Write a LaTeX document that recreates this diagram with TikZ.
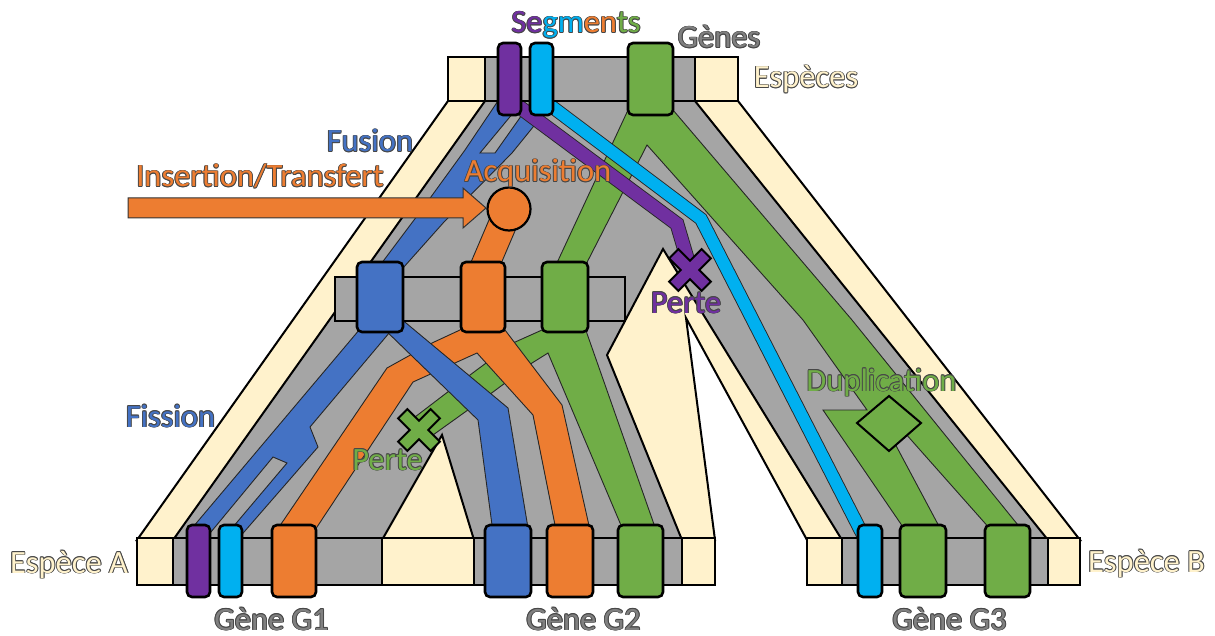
\documentclass[tikz,border=0pt]{standalone}
\usepackage{fontspec}
\setmainfont{Carlito}
\definecolor{tanc}{HTML}{FFF2CC}
\definecolor{grayc}{HTML}{A5A5A5}
\definecolor{bluec}{HTML}{4472C4}
\definecolor{orangec}{HTML}{ED7D31}
\definecolor{greenc}{HTML}{70AD47}
\definecolor{purplec}{HTML}{7030A0}
\definecolor{cyanc}{HTML}{00B0F0}
\definecolor{txtgray}{HTML}{808080}
\newcommand\OTxt[2]{\leavevmode\begingroup\setbox0=\hbox{#2}%
\def\oo##1##2{\rlap{\kern##1\raise##2\hbox{\color{black!72}\copy0}}}%
\oo{-.9pt}{0pt}\oo{.9pt}{0pt}\oo{0pt}{.9pt}\oo{0pt}{-.9pt}%
\oo{-.64pt}{.64pt}\oo{.64pt}{.64pt}\oo{-.64pt}{-.64pt}\oo{.64pt}{-.64pt}%
\hbox{\color{#1}\box0}\endgroup}
\begin{document}
\begin{tikzpicture}[x=1pt,y=-1pt,
  treeline/.style={draw=black,line width=2pt,line join=miter},
  bandline/.style={draw=black!85,line width=0.9pt,line join=miter},
  genebox/.style={draw=black,line width=2.6pt,rounded corners=5pt,inner sep=0pt},
  barbox/.style={draw=black,line width=2pt},
  lbl/.style={inner sep=0pt,anchor=base,font=\fontsize{32.5}{36}\selectfont},
  evt/.style={draw=black,line width=2pt,line join=miter}]
\useasboundingbox (0,0) rectangle (1215,636);

% species tree and gene tree tubes
\path[treeline,fill=tanc] (448,101) -- (738,101) -- (1080,540) -- (807,540) -- (686,318) -- (715,540) -- (137,540) -- cycle;
\path[treeline,fill=grayc] (485,101) -- (695,101) -- (1048,540) -- (842,540) -- (663,249) -- (607,355) -- (682,540) -- (474,540) -- (442,435) -- (382,540) -- (173,540) -- cycle;

% green lineages
\path[bandline,fill=greenc] (628,110) -- (673,110) -- (852,320) -- (1022,530) -- (991,530) -- (905,433) -- (893,440) -- (941,530) -- (905,530) -- (823,410) -- (867,410) -- (803,320) -- (647,145) -- (578,280) -- (549,280) -- cycle;
\path[bandline,fill=greenc] (548,325) -- (584,325) -- (656,530) -- (623,530) -- (548,353) -- (532,363) -- (493,392) -- (433,435) -- (415,417) -- (470,375) -- (513,343) -- (542,330) -- cycle;

% orange lineages
\path[bandline,fill=orangec] (496,203.5) -- (522,214.5) -- (496,275.5) -- (470,264.5) -- cycle;
\path[bandline,fill=orangec] (468,320) -- (500,320) -- (505,330) -- (562,405) -- (590,530) -- (556,530) -- (533,415) -- (477,353) -- (413,382) -- (315,530) -- (277,530) -- (387,368) -- (405,358) -- (432,343) -- (460,330) -- cycle;

% blue lineages
\path[bandline,fill=bluec] (502,95) -- (528,95) -- (480,153) -- (495,153) -- (536,95) -- (559,95) -- (512,153) -- (444,222) -- (403,268) -- (378,268) -- (420,212) -- (465,150) -- cycle;
\path[bandline,fill=bluec] (376,310) -- (193,527) -- (206,538) -- (273,457) -- (287,463) -- (222,540) -- (231,547) -- (318,447) -- (310,427) -- (395,326) -- cycle;
\path[bandline,fill=bluec] (364.5,310) -- (390.4,310) -- (508,408) -- (530,540) -- (494,540) -- (478,420) -- cycle;

% purple and cyan segments
\draw[line width=14.8pt,black!85,line join=miter] (510,100) -- (677,224) -- (690,268);
\draw[line width=13pt,purplec,line join=miter] (510,100) -- (677,224) -- (690,268);
\draw[line width=13.8pt,black!85,line join=miter] (543,100) -- (701,219) -- (868,545);
\draw[line width=12pt,cyanc,line join=miter] (543,100) -- (701,219) -- (868,545);

% genome bars
\draw[barbox,fill=tanc] (448,57) rectangle (485,101);
\draw[barbox,fill=grayc] (485,57) rectangle (695,101);
\draw[barbox,fill=tanc] (695,57) rectangle (738,101);
\draw[barbox,fill=grayc] (335,277) rectangle (625,321);
\draw[barbox,fill=tanc] (137,538) rectangle (173,585);
\draw[barbox,fill=grayc] (173,538) rectangle (382,585);
\draw[barbox,fill=tanc] (382,538) rectangle (474,585);
\draw[barbox,fill=grayc] (474,538) rectangle (682,585);
\draw[barbox,fill=tanc] (682,538) rectangle (715,585);
\draw[barbox,fill=tanc] (807,538) rectangle (842,585);
\draw[barbox,fill=grayc] (842,538) rectangle (1048,585);
\draw[barbox,fill=tanc] (1048,538) rectangle (1080,585);

% genes
\node[genebox,fill=purplec,minimum width=23pt,minimum height=72pt] (tP) at (509.5,79) {};
\node[genebox,fill=cyanc,minimum width=23pt,minimum height=72pt] (tC) at (541.5,79) {};
\node[genebox,fill=greenc,minimum width=45pt,minimum height=72pt] (tG) at (650.5,79) {};
\node[genebox,fill=bluec,minimum width=46pt,minimum height=70pt] (mB) at (380,297) {};
\node[genebox,fill=orangec,minimum width=44pt,minimum height=70pt] (mO) at (483,297) {};
\node[genebox,fill=greenc,minimum width=46pt,minimum height=70pt] (mG) at (565,297) {};
\node[genebox,fill=purplec,minimum width=23pt,minimum height=72pt] (aP) at (198.5,561) {};
\node[genebox,fill=cyanc,minimum width=23pt,minimum height=72pt] (aC) at (230.5,561) {};
\node[genebox,fill=orangec,minimum width=44pt,minimum height=72pt] (aO) at (294,561) {};
\node[genebox,fill=bluec,minimum width=46pt,minimum height=72pt] (aB2) at (508,561) {};
\node[genebox,fill=orangec,minimum width=46pt,minimum height=72pt] (aO2) at (570,561) {};
\node[genebox,fill=greenc,minimum width=45pt,minimum height=72pt] (aG2) at (640.5,561) {};
\node[genebox,fill=cyanc,minimum width=24pt,minimum height=72pt] (bC) at (870,561) {};
\node[genebox,fill=greenc,minimum width=46pt,minimum height=72pt] (bG1) at (923,561) {};
\node[genebox,fill=greenc,minimum width=45pt,minimum height=72pt] (bG2) at (1007.5,561) {};

% events
\path[draw=black!80,line width=1pt,fill=orangec,line join=miter] (128,198) -- (463,198) -- (463,188) -- (486,208) -- (463,228) -- (463,218) -- (128,218) -- cycle;
\node[draw=black,line width=2.2pt,fill=orangec,circle,minimum size=43pt,inner sep=0pt] (acq) at (509,209) {};
\path[evt,fill=greenc] (889,396) -- (921,423) -- (889,451) -- (857,423) -- cycle;
\path[evt,fill=purplec,shift={(690,270)},rotate=45] (-6.5,-23) -- (6.5,-23) -- (6.5,-6.5) -- (23,-6.5) -- (23,6.5) -- (6.5,6.5) -- (6.5,23) -- (-6.5,23) -- (-6.5,6.5) -- (-23,6.5) -- (-23,-6.5) -- (-6.5,-6.5) -- cycle;
\path[evt,fill=greenc,shift={(419,430)},rotate=45] (-6.5,-23) -- (6.5,-23) -- (6.5,-6.5) -- (23,-6.5) -- (23,6.5) -- (6.5,6.5) -- (6.5,23) -- (-6.5,23) -- (-6.5,6.5) -- (-23,6.5) -- (-23,-6.5) -- (-6.5,-6.5) -- cycle;

% labels
\node[lbl] (lseg) at (576,33) {\OTxt{purplec}{Se}\OTxt{cyanc}{gm}\OTxt{orangec}{en}\OTxt{greenc}{ts}};
\node[lbl] (lgen) at (719,48) {\OTxt{txtgray}{Gènes}};
\node[lbl] (lesp) at (806,88) {\OTxt{tanc}{Espèces}};
\node[lbl] (lfus) at (370,152) {\OTxt{bluec}{Fusion}};
\node[lbl] (lins) at (260,187) {\OTxt{orangec}{Insertion/Transfert}};
\node[lbl] (lacq) at (538,182) {\OTxt{orangec}{Acquisition}};
\node[lbl] (lpp) at (686,313) {\OTxt{purplec}{Perte}};
\node[lbl] (lfis) at (170.5,427) {\OTxt{bluec}{Fission}};
\node[lbl] (lpg) at (387.5,470) {\OTxt{greenc}{Perte}};
\node[lbl] (ldup) at (881.5,391) {\OTxt{greenc}{Duplication}};
\node[lbl] (lea) at (69,573) {\OTxt{tanc}{Espèce A}};
\node[lbl] (leb) at (1146.5,572) {\OTxt{tanc}{Espèce B}};
\node[lbl] (lg1) at (271.5,630) {\OTxt{txtgray}{Gène G1}};
\node[lbl] (lg2) at (583.5,630) {\OTxt{txtgray}{Gène G2}};
\node[lbl] (lg3) at (949.5,630) {\OTxt{txtgray}{Gène G3}};
\end{tikzpicture}
\end{document}
